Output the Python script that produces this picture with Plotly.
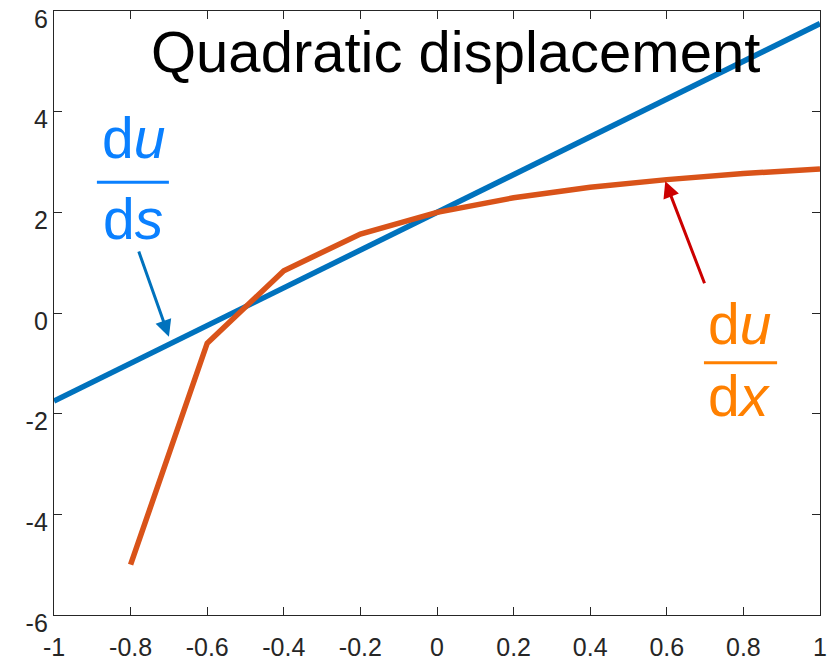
import plotly.graph_objects as go

# ---- data ----
s_vals = [-1.0, 1.0]
du_ds = [-1.75, 5.75]

x_nodes = [-0.8, -0.6, -0.4, -0.2, 0.0, 0.2, 0.4, 0.6, 0.8, 1.0]
du_dx = [-5.0, -0.6, 0.84, 1.57, 2.0, 2.29, 2.5, 2.65, 2.77, 2.86]

x_tickvals = [-1, -0.8, -0.6, -0.4, -0.2, 0, 0.2, 0.4, 0.6, 0.8, 1]
x_ticktext = ["-1", "-0.8", "-0.6", "-0.4", "-0.2", "0", "0.2", "0.4", "0.6", "0.8", "1"]
y_tickvals = [-6, -4, -2, 0, 2, 4, 6]
y_ticktext = ["-6", "-4", "-2", "0", "2", "4", "6"]

title_text = "Quadratic displacement"

FONT = "Liberation Sans, Arial, Helvetica, sans-serif"
AX = "#262626"
BLUE = "#0072BD"
ORANGE = "#D95319"
LBLUE = "#0A80FF"
LORANGE = "#FF8000"
RED = "#CC0000"

fig = go.Figure()
fig.add_trace(go.Scatter(x=s_vals, y=du_ds, mode="lines",
                         line=dict(color=BLUE, width=5.5), showlegend=False,
                         hoverinfo="skip"))
fig.add_trace(go.Scatter(x=x_nodes, y=du_dx, mode="lines",
                         line=dict(color=ORANGE, width=5.5), showlegend=False,
                         hoverinfo="skip"))

axis_common = dict(showline=True, mirror="ticks", linecolor=AX, linewidth=1.3,
                   ticks="inside", ticklen=8, tickwidth=1.3, tickcolor=AX,
                   showgrid=False, zeroline=False, automargin=False,
                   ticklabeloverflow="allow",
                   tickfont=dict(family=FONT, size=25, color=AX))

fig.update_xaxes(range=[-1, 1], tickvals=x_tickvals, ticktext=x_ticktext,
                 ticklabelstandoff=10, **axis_common)
fig.update_yaxes(range=[-6, 6], tickvals=y_tickvals, ticktext=y_ticktext,
                 ticklabelshift=8, **axis_common)

annotations = [
    dict(x=0.047, y=5.2, text=title_text, showarrow=False,
         font=dict(family=FONT, size=58, color="black"), xanchor="center", yanchor="middle"),
    # du/ds label
    dict(x=-0.792, y=3.47, text="d<i>u</i>", showarrow=False,
         font=dict(family=FONT, size=57, color=LBLUE), xanchor="center", yanchor="middle"),
    dict(x=-0.795, y=1.87, text="d<i>s</i>", showarrow=False,
         font=dict(family=FONT, size=57, color=LBLUE), xanchor="center", yanchor="middle"),
    # du/dx label
    dict(x=0.790, y=-0.22, text="d<i>u</i>", showarrow=False,
         font=dict(family=FONT, size=57, color=LORANGE), xanchor="center", yanchor="middle"),
    dict(x=0.790, y=-1.65, text="d<i>x</i>", showarrow=False,
         font=dict(family=FONT, size=57, color=LORANGE), xanchor="center", yanchor="middle"),
    # arrows
    dict(x=-0.700, y=-0.47, ax=-0.780, ay=1.25, axref="x", ayref="y", text="",
         showarrow=True, arrowhead=2, arrowsize=1.1, arrowwidth=3, arrowcolor=BLUE, standoff=0),
    dict(x=0.596, y=2.62, ax=0.700, ay=0.56, axref="x", ayref="y", text="",
         showarrow=True, arrowhead=2, arrowsize=1.1, arrowwidth=3, arrowcolor=RED, standoff=0),
]

shapes = [
    dict(type="line", xref="x", yref="y", x0=-0.888, x1=-0.700, y0=2.60, y1=2.60,
         line=dict(color=LBLUE, width=3)),
    dict(type="line", xref="x", yref="y", x0=0.697, x1=0.888, y0=-0.99, y1=-0.99,
         line=dict(color=LORANGE, width=3)),
]

fig.update_layout(width=837, height=660,
                  margin=dict(l=54, r=17, t=11, b=45),
                  plot_bgcolor="white", paper_bgcolor="white",
                  annotations=annotations, shapes=shapes,
                  hovermode=False,
                  font=dict(family=FONT))

# remove the page's default 8px body margin so the figure sits at the window's corner
fig.write_html("out.html", config={"displayModeBar": False},
               post_script="document.body.style.margin='0';")
